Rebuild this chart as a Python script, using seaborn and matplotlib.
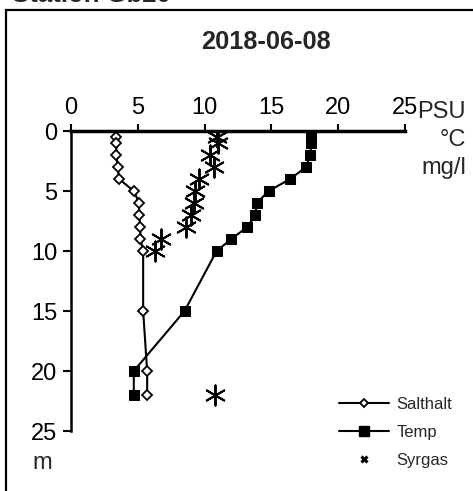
import numpy as np
import pandas as pd
import matplotlib
matplotlib.use('Agg')
import matplotlib.pyplot as plt
from matplotlib.lines import Line2D
from matplotlib.patches import Rectangle
import seaborn as sns

# profile data, depth in m
salt_depth = [0.5, 1, 2, 3, 4, 5, 6, 7, 8, 9, 10, 15, 20, 22]
salt_val = [3.4, 3.4, 3.4, 3.5, 3.6, 4.7, 5.1, 5.1, 5.2, 5.2, 5.4, 5.4, 5.7, 5.7]
temp_depth = [0.5, 1, 2, 3, 4, 5, 6, 7, 8, 9, 10, 15, 20, 22]
temp_val = [18.0, 18.0, 17.9, 17.6, 16.4, 14.8, 13.9, 13.8, 13.2, 12.0, 10.9, 8.5, 4.7, 4.7]
syr_depth = [0.5, 1, 2, 3, 4, 5, 6, 7, 8, 9, 10, 22]
syr_val = [10.9, 11.0, 10.4, 10.7, 9.6, 9.3, 9.2, 9.0, 8.6, 6.7, 6.3, 10.8]
xticks = [0, 5, 10, 15, 20, 25]
yticks = [0, 5, 10, 15, 20, 25]
unit_labels = ['PSU', '°C', 'mg/l']

sns.set_theme(style='white')
plt.rcParams['font.family'] = ['Liberation Sans', 'DejaVu Sans']

fig = plt.figure(figsize=(4.73, 4.91), dpi=100)
ax = fig.add_axes([71/473, 1-431/491, 334/473, 300/491])

sns.lineplot(x=salt_val, y=salt_depth, sort=False, estimator=None, orient='y', ax=ax,
             color='black', lw=1.5, marker='D', ms=5.5, markerfacecolor='white',
             markeredgecolor='black', mew=1.3)
sns.lineplot(x=temp_val, y=temp_depth, sort=False, estimator=None, orient='y', ax=ax,
             color='black', lw=1.5, marker='s', ms=7.5, markerfacecolor='black',
             markeredgecolor='black')
sns.scatterplot(x=syr_val, y=syr_depth, ax=ax, marker=(6, 2, 0), s=210,
                color='black', linewidth=1.4)

ax.set_xlim(0, 25)
ax.set_ylim(25, 0)
ax.set_xticks(xticks)
ax.set_yticks(yticks)
ax.xaxis.tick_top()
for s in ['right', 'bottom']:
    ax.spines[s].set_visible(False)
for s in ['top', 'left']:
    ax.spines[s].set_color('black')
ax.spines['top'].set_linewidth(2.5)
ax.spines['left'].set_linewidth(1.8)
ax.tick_params(axis='x', top=True, direction='out', length=5, width=1.5, labelsize=17, pad=4, colors='black')
ax.tick_params(axis='y', left=True, direction='out', length=6, width=1.5, labelsize=17, pad=4, colors='black')
ax.set_xlabel('')
ax.set_ylabel('')

ax.text(-0.085, -0.107, 'm', transform=ax.transAxes, ha='center', va='center', fontsize=17)
for i, u in enumerate(unit_labels):
    fig.text(466/473, 1-(112+28*i)/491, u, ha='right', va='center', fontsize=17)

fig.text(266/473, 1-42/491, '2018-06-08', ha='center', va='center', fontsize=18.3, fontweight='bold')
fig.text(12/473, 1-2/491, 'Station Gb20', ha='left', va='baseline', fontsize=18.5, fontweight='bold')

fig.add_artist(Rectangle((6/473, -0.2), 1.2, 1-10/491+0.2, transform=fig.transFigure,
                         fill=False, edgecolor='black', lw=1.6))

handles = [
    Line2D([], [], color='black', lw=1.5, marker='D', ms=4.5, markerfacecolor='white', mew=1.3),
    Line2D([], [], color='black', lw=1.5, marker='s', ms=7),
    Line2D([], [], color='black', lw=0, marker='x', ms=5, mew=2.2),
]
ax.legend(handles, ['Salthalt', 'Temp', 'Syrgas'], loc='lower left',
          bbox_to_anchor=(324/473, 1-483/491), bbox_transform=fig.transFigure,
          frameon=False, fontsize=12, handlelength=3.0, labelspacing=0.78, handletextpad=0.45)

fig.savefig('out.png', dpi=100)
